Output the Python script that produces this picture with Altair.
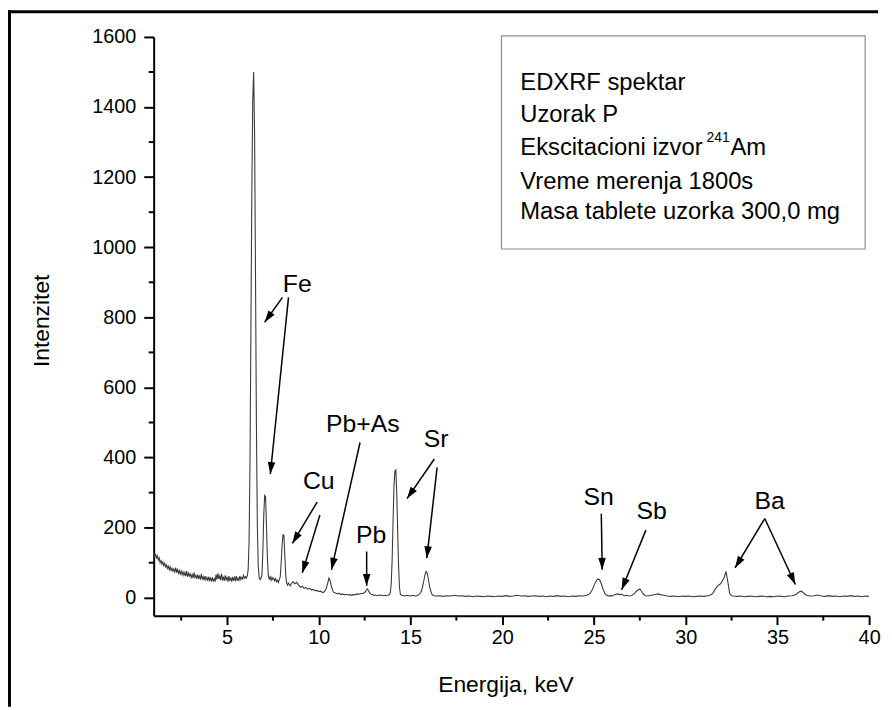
import math
import altair as alt
import pandas as pd

# ---------------- spectrum ----------------
energy_keV = [
    1.00, 1.05, 1.10, 1.15, 1.20, 1.25, 1.30, 1.35, 1.40, 1.45,
    1.50, 1.55, 1.60, 1.65, 1.70, 1.75, 1.80, 1.85, 1.90, 1.95,
    2.00, 2.05, 2.10, 2.15, 2.20, 2.25, 2.30, 2.35, 2.40, 2.45,
    2.50, 2.55, 2.60, 2.65, 2.70, 2.75, 2.80, 2.85, 2.90, 2.95,
    3.00, 3.05, 3.10, 3.15, 3.20, 3.25, 3.30, 3.35, 3.40, 3.45,
    3.50, 3.55, 3.60, 3.65, 3.70, 3.75, 3.80, 3.85, 3.90, 3.95,
    4.00, 4.05, 4.10, 4.15, 4.20, 4.25, 4.30, 4.35, 4.40, 4.45,
    4.50, 4.55, 4.60, 4.65, 4.70, 4.75, 4.80, 4.85, 4.90, 4.95,
    5.00, 5.05, 5.10, 5.15, 5.20, 5.25, 5.30, 5.35, 5.40, 5.45,
    5.50, 5.55, 5.60, 5.65, 5.70, 5.75, 5.80, 5.85, 5.90, 5.95,
    6.00, 6.05, 6.10, 6.15, 6.20, 6.25, 6.30, 6.35, 6.40, 6.45,
    6.50, 6.55, 6.60, 6.65, 6.70, 6.75, 6.80, 6.85, 6.90, 6.95,
    7.00, 7.05, 7.10, 7.15, 7.20, 7.25, 7.30, 7.35, 7.40, 7.45,
    7.50, 7.55, 7.60, 7.65, 7.70, 7.75, 7.80, 7.85, 7.90, 7.95,
    8.00, 8.05, 8.10, 8.15, 8.20, 8.25, 8.30, 8.35, 8.40, 8.45,
    8.5, 8.6, 8.7, 8.8, 8.9, 9.0, 9.1, 9.2, 9.3, 9.4,
    9.5, 9.6, 9.7, 9.8, 9.9, 10.0, 10.1, 10.2, 10.3, 10.4,
    10.5, 10.55, 10.6, 10.7, 10.8, 10.9, 11.0, 11.1, 11.2, 11.3,
    11.4, 11.5, 11.6, 11.7, 11.8, 11.9, 12.0, 12.1, 12.2, 12.3,
    12.4, 12.5, 12.6, 12.65, 12.7, 12.8, 12.9, 13.0, 13.1, 13.2,
    13.3, 13.4, 13.5, 13.6, 13.7, 13.8, 13.85, 13.9, 13.95, 14.0,
    14.05, 14.1, 14.15, 14.2, 14.25, 14.3, 14.35, 14.4, 14.45, 14.5,
    14.6, 14.7, 14.8, 14.9, 15.0, 15.1, 15.2, 15.3, 15.4, 15.5,
    15.55, 15.6, 15.65, 15.7, 15.75, 15.8, 15.85, 15.9, 15.95, 16.0,
    16.05, 16.1, 16.15, 16.2, 16.3, 16.4, 16.6, 16.8, 17.0, 17.2,
    17.4, 17.6, 17.8, 18.0, 18.2, 18.4, 18.6, 18.8, 19.0, 19.2,
    19.4, 19.6, 19.8, 20.0, 20.2, 20.4, 20.6, 20.8, 21.0, 21.2,
    21.4, 21.6, 21.8, 22.0, 22.2, 22.4, 22.6, 22.8, 23.0, 23.2,
    23.4, 23.6, 23.8, 24.0, 24.2, 24.4, 24.5, 24.6, 24.7, 24.8,
    24.9, 25.0, 25.1, 25.2, 25.3, 25.4, 25.5, 25.6, 25.7, 25.8,
    25.9, 26.0, 26.1, 26.2, 26.3, 26.4, 26.5, 26.6, 26.7, 26.8,
    26.9, 27.0, 27.1, 27.2, 27.3, 27.4, 27.5, 27.6, 27.7, 27.8,
    27.9, 28.0, 28.2, 28.4, 28.5, 28.6, 28.8, 29.0, 29.2, 29.4,
    29.6, 29.8, 30.0, 30.2, 30.4, 30.6, 30.8, 31.0, 31.2, 31.3,
    31.4, 31.5, 31.6, 31.7, 31.8, 31.9, 32.0, 32.1, 32.2, 32.3,
    32.4, 32.5, 32.6, 32.8, 33.0, 33.2, 33.4, 33.6, 33.8, 34.0,
    34.2, 34.4, 34.6, 34.8, 35.0, 35.2, 35.4, 35.6, 35.8, 35.9,
    36.0, 36.1, 36.2, 36.3, 36.4, 36.5, 36.6, 36.7, 36.8, 37.0,
    37.2, 37.4, 37.6, 37.8, 38.0, 38.2, 38.4, 38.6, 38.8, 39.0,
    39.2, 39.4, 39.6, 39.8, 40.0,
]
intensity = [
    130, 118, 126, 112, 120, 108, 114, 100, 106, 96,
    102, 92, 98, 88, 94, 84, 90, 80, 88, 78,
    84, 76, 82, 74, 86, 72, 80, 70, 78, 68,
    76, 66, 74, 64, 72, 62, 76, 60, 70, 62,
    68, 58, 66, 56, 72, 58, 64, 54, 66, 56,
    62, 52, 68, 54, 60, 50, 62, 52, 58, 48,
    60, 50, 56, 46, 58, 48, 54, 46, 66, 52,
    70, 54, 62, 50, 68, 52, 58, 48, 64, 50,
    60, 46, 62, 50, 56, 46, 60, 48, 58, 50,
    62, 48, 56, 50, 62, 52, 58, 54, 64, 56,
    60, 56, 62, 80, 160, 380, 760, 1150, 1420, 1500,
    1330, 930, 500, 210, 90, 58, 52, 56, 64, 130,
    235, 292, 288, 205, 112, 62, 54, 60, 50, 58,
    52, 56, 48, 54, 46, 50, 44, 52, 60, 100,
    150, 180, 178, 120, 62, 42, 36, 42, 38, 34,
    40, 46, 40, 44, 36, 30, 33, 27, 29, 25,
    27, 22, 24, 20, 21, 18, 19, 15, 17, 26,
    44, 56, 52, 30, 16, 14, 11, 13, 9, 11,
    8, 10, 8, 9, 7, 9, 9, 11, 10, 12,
    12, 15, 22, 25, 21, 12, 9, 7, 8, 6,
    8, 7, 6, 7, 6, 8, 9, 15, 40, 110,
    220, 320, 362, 365, 300, 190, 90, 30, 10, 7,
    6, 5, 7, 6, 5, 7, 6, 5, 7, 11,
    15, 20, 30, 42, 55, 68, 75, 72, 60, 45,
    30, 20, 12, 8, 6, 5, 6, 4, 6, 5,
    7, 5, 6, 4, 5, 3, 5, 4, 3, 5,
    4, 3, 5, 4, 6, 4, 5, 7, 5, 6,
    4, 5, 6, 4, 5, 3, 5, 4, 6, 4,
    5, 3, 5, 4, 6, 5, 6, 7, 9, 13,
    22, 34, 46, 53, 52, 40, 24, 12, 7, 5,
    6, 5, 8, 10, 11, 9, 10, 7, 6, 7,
    5, 6, 8, 12, 18, 22, 25, 18, 10, 6,
    5, 6, 8, 10, 11, 9, 7, 5, 4, 5,
    3, 5, 4, 5, 3, 4, 5, 4, 6, 7,
    9, 14, 24, 31, 36, 40, 48, 58, 75, 45,
    12, 6, 5, 4, 5, 3, 4, 5, 3, 4,
    5, 3, 4, 3, 5, 4, 3, 5, 6, 7,
    9, 13, 17, 19, 15, 10, 7, 6, 5, 6,
    8, 5, 4, 6, 4, 5, 3, 5, 4, 6,
    4, 5, 3, 5, 4,
]
assert len(energy_keV) == len(intensity)

# ---------------- axis ticks ----------------
x_major = [5, 10, 15, 20, 25, 30, 35, 40]
x_minor = [2.5, 7.5, 12.5, 17.5, 22.5, 27.5, 32.5, 37.5]
y_major = [0, 200, 400, 600, 800, 1000, 1200, 1400, 1600]
y_minor = [100, 300, 500, 700, 900, 1100, 1300, 1500]
x_domain = [1, 40]
y_domain = [-51, 1600]

# ---------------- peak labels and arrows (data coordinates) ----------------
label_text = ["Fe", "Cu", "Pb+As", "Pb", "Sr", "Sn", "Sb", "Ba"]
label_e = [8.83, 10.00, 12.40, 12.86, 16.39, 25.25, 28.14, 34.58]
label_v = [896, 334, 495, 178, 452, 288, 246, 277]

arrow_e0 = [8.02, 8.35, 9.91, 10.06, 12.25, 12.61, 16.30, 16.45, 25.40, 27.83, 34.31, 34.31]
arrow_v0 = [857, 857, 273, 236, 443, 132, 396, 372, 240, 193, 226, 226]
arrow_e1 = [7.05, 7.36, 8.56, 9.10, 10.69, 12.61, 14.81, 15.89, 25.45, 26.51, 32.69, 35.98]
arrow_v1 = [786, 353, 155, 71, 80, 34, 283, 113, 80, 23, 85, 38]

legend_lines = ["EDXRF spektar", "Uzorak P", "Ekscitacioni izvor",
                "Vreme merenja 1800s", "Masa tablete uzorka 300,0 mg"]
legend_sup = "241"
legend_after_sup = "Am"

# ---------------- layout ----------------
W, H = 722, 584
FONT = "Liberation Sans"
X_PX = W / (x_domain[1] - x_domain[0])
Y_PX = H / (y_domain[1] - y_domain[0])

spec_df = pd.DataFrame({"E": energy_keV, "I": intensity})
lab_df = pd.DataFrame({"E": label_e, "I": label_v, "t": label_text})
angles = []
for e0, v0, e1, v1 in zip(arrow_e0, arrow_v0, arrow_e1, arrow_v1):
    dx = (e1 - e0) * X_PX
    dy = -(v1 - v0) * Y_PX
    angles.append((math.degrees(math.atan2(dx, -dy)) + 360) % 360)
arr_df = pd.DataFrame({"E": arrow_e0, "I": arrow_v0, "E1": arrow_e1, "I1": arrow_v1})
head_df = pd.DataFrame({"E": arrow_e1, "I": arrow_v1, "ang": angles})
xminor_df = pd.DataFrame({"E": x_minor})
yminor_df = pd.DataFrame({"I": y_minor})
one = pd.DataFrame({"k": [0]})

xs = alt.Scale(domain=x_domain, nice=False, zero=False)
ys = alt.Scale(domain=y_domain, nice=False, zero=False)

x_axis = alt.Axis(
    values=x_major, format="d",
    tickSize=9, title="Energija, keV", grid=False, domainColor="black", domainWidth=2,
    tickColor="black", tickWidth=2, labelFont=FONT, labelFontSize=20,
    labelColor="black", labelPadding=3, labelOverlap=False, labelFlush=False,
    titleFont=FONT, titleFontSize=23, titleFontWeight="normal", titleColor="black",
    titleX=355, titleY=70, titleBaseline="middle", titleAlign="center",
)
y_axis = alt.Axis(
    values=y_major, format="d",
    tickSize=10, title="Intenzitet", grid=False, domainColor="black", domainWidth=2,
    tickColor="black", tickWidth=2, labelFont=FONT, labelFontSize=20,
    labelColor="black", labelPadding=8, labelOverlap=False, labelFlush=False,
    titleFont=FONT, titleFontSize=23, titleFontWeight="normal", titleColor="black",
    titleX=-113, titleY=286, titleBaseline="middle", titleAlign="center", titleAngle=270,
)

X = alt.X("E:Q", scale=xs, axis=x_axis)
Y = alt.Y("I:Q", scale=ys, axis=y_axis)

spectrum = alt.Chart(spec_df).mark_line(color="#3a3a3a", strokeWidth=1.1, clip=True).encode(
    x=X, y=Y, order=alt.Order("E:Q"),
)
arrows = alt.Chart(arr_df).mark_rule(color="black", strokeWidth=1.5).encode(
    x=X, y=Y, x2="E1:Q", y2="I1:Q",
)
heads = alt.Chart(head_df).mark_point(
    shape="M0,0L-0.32,1L0.32,1Z", filled=True, size=576, color="black", opacity=1,
    strokeWidth=0,
).encode(
    x=X, y=Y, angle=alt.Angle("ang:Q", scale=None),
)
labels = alt.Chart(lab_df).mark_text(
    font=FONT, fontSize=25, color="black", align="center", baseline="middle"
).encode(x=X, y=Y, text="t:N")

# minor ticks
x_minor_ticks = alt.Chart(xminor_df).mark_rule(color="black", strokeWidth=2).encode(
    x=X, y=alt.value(H), y2=alt.value(H + 5)
)
y_minor_ticks = alt.Chart(yminor_df).mark_rule(color="black", strokeWidth=2).encode(
    y=Y, x=alt.value(0), x2=alt.value(-5)
)

# legend box (positions in plot pixels)
box = alt.Chart(one).mark_rect(fillOpacity=0, stroke="#8c8c8c", strokeWidth=1.2).encode(
    x=alt.value(351), x2=alt.value(718), y=alt.value(-1), y2=alt.value(214)
)
legend_y = [54, 86, 119, 153, 184]
legend_layers = []
for txt, yy in zip(legend_lines, legend_y):
    legend_layers.append(
        alt.Chart(one).mark_text(font=FONT, fontSize=24, color="black", align="left",
                                 baseline="alphabetic")
        .encode(x=alt.value(370), y=alt.value(yy), text=alt.value(txt))
    )
legend_layers.append(
    alt.Chart(one).mark_text(font=FONT, fontSize=14, color="black", align="left",
                             baseline="alphabetic")
    .encode(x=alt.value(558), y=alt.value(106), text=alt.value(legend_sup))
)
legend_layers.append(
    alt.Chart(one).mark_text(font=FONT, fontSize=24, color="black", align="left",
                             baseline="alphabetic")
    .encode(x=alt.value(582), y=alt.value(119), text=alt.value(legend_after_sup))
)

# outer frame (left and top edges of the picture)
frame_left = alt.Chart(one).mark_rule(color="black", strokeWidth=3).encode(
    x=alt.value(-145.5), y=alt.value(-27), y2=alt.value(676)
)
frame_top = alt.Chart(one).mark_rule(color="black", strokeWidth=3).encode(
    x=alt.value(-147), x2=alt.value(731), y=alt.value(-25.5)
)

chart = alt.layer(
    spectrum, arrows, heads, labels, x_minor_ticks, y_minor_ticks, box,
    *legend_layers, frame_left, frame_top
).properties(
    width=W, height=H,
    padding={"left": 147, "top": 26, "right": 15, "bottom": 92},
    autosize=alt.AutoSizeParams(type="none"),
    background="white",
).configure_view(stroke=None)

chart.save("out.html", embed_options={"renderer": "svg", "actions": False})
